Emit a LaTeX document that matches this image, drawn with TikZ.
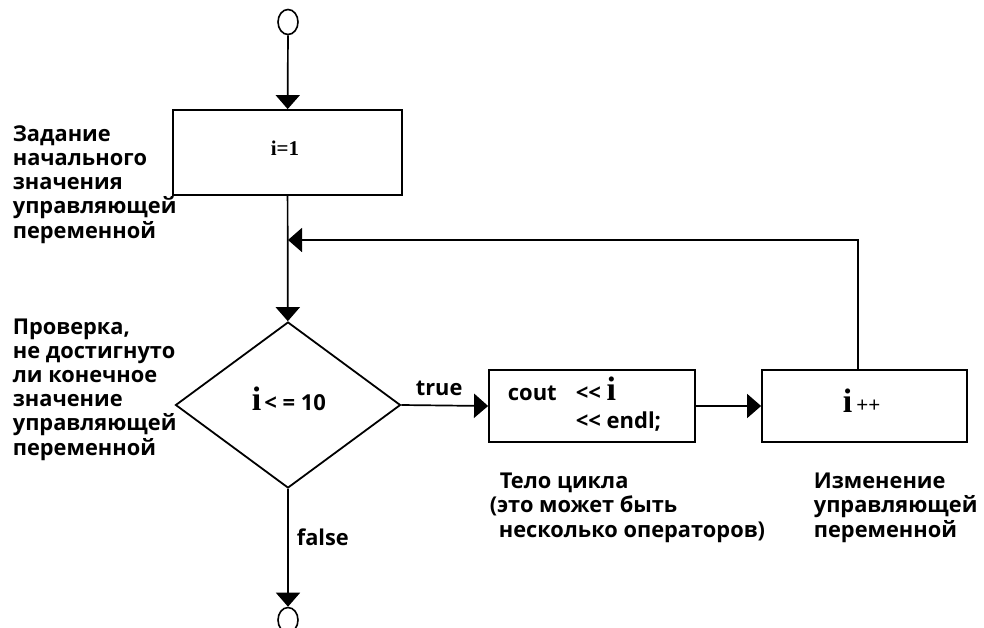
\documentclass[tikz,border=0pt]{standalone}
\usepackage{fontspec}
\setmainfont{Liberation Serif}
\newfontfamily\labfont{Open Sans}
\usetikzlibrary{shapes.geometric,arrows.meta}
\begin{document}
\begin{tikzpicture}[x=1pt,y=-1pt,line width=1.7pt,
  box/.style={draw,rectangle,inner sep=0pt,line width=1.8pt},
  arr/.style={-{Triangle[length=14pt,width=24pt]}},
  lbl/.style={font=\labfont\bfseries\fontsize{21.8}{24.2}\selectfont,align=left,inner sep=0pt,anchor=base west},
  term/.style={draw,ellipse,minimum width=20pt,minimum height=25pt,inner sep=0pt,line width=1.6pt},
  txt/.style={inner sep=0pt,anchor=base west},
  bigi/.style={font=\rmfamily\bfseries\fontsize{34}{34}\selectfont},
  code/.style={font=\labfont\bfseries\fontsize{22}{28}\selectfont}]
\useasboundingbox (0,0) rectangle (984,627);

\node[term] (start) at (288,22) {};
\node[box,minimum width=229pt,minimum height=85pt] (init) at (287.5,152.5) {};
\node[draw,diamond,minimum width=225pt,minimum height=166pt,inner sep=0pt,line width=1.8pt] (dec) at (288,405) {};
\node[box,minimum width=206pt,minimum height=72pt] (body) at (592,406) {};
\node[box,minimum width=205pt,minimum height=72pt] (inc) at (864.5,406) {};
\node[term] (end) at (288,620) {};

\node[txt] (inittxt) at (270,155) {\bfseries\fontsize{21}{24}\selectfont i=1};
\node[txt] (dectxt) at (251,410)
  {\bfseries\fontsize{34}{34}\selectfont i\hspace{3pt}{\labfont\bfseries\fontsize{22}{22}\selectfont < = 10}};
\node[txt] (inctxt) at (842,412)
  {\bfseries\fontsize{34}{34}\selectfont i\hspace{4pt}{\labfont\mdseries\fontsize{21}{21}\selectfont ++}};
\node[txt,code] (bodytxt) at (507,400)
  {\begin{tabular}[t]{@{}l@{\hspace{19pt}}l@{}}cout & <\kern0pt< {\rmfamily\fontsize{34}{34}\selectfont i}\\ & <\kern0pt< endl;\end{tabular}};

\coordinate (merge) at (288,240);
\draw[arr] (start) -- (init);
\draw[arr] (init) -- (dec);
\draw[arr] ([xshift=-6.5pt]inc.north) |- (merge);
\draw[arr] (dec.east) -- (body.west);
\draw[arr] (body.east) -- (inc.west);
\draw[arr] (dec.south) -- (end.north);

\node[lbl] (truelbl) at (415,395) {true};
\node[lbl] (falselbl) at (296,545) {false};

\node[lbl] (l1) at (12,238) {Задание\\начального\\значения\\управляющей\\переменной};
\node[lbl] (l2) at (12,455) {Проверка,\\не достигнуто\\ли конечное\\значение\\управляющей\\переменной};
\node[lbl] (l3) at (489,537) {\hspace*{10pt}Тело цикла\\(это может быть\\\hspace*{9pt}несколько операторов)};
\node[lbl] (l4) at (813,537) {Изменение\\управляющей\\переменной};
\end{tikzpicture}
\end{document}
